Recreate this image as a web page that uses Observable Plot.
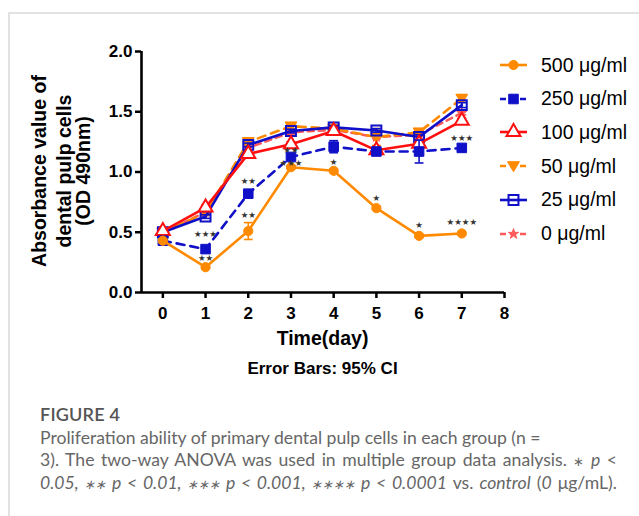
<!DOCTYPE html>
<html>
<head>
<meta charset="utf-8">
<script src="https://cdn.jsdelivr.net/npm/d3@7"></script>
<script src="https://cdn.jsdelivr.net/npm/@observablehq/plot@0.6"></script>
<style>
  body { margin: 0; background: #fff; }
  #page { position: relative; width: 639px; height: 516px; overflow: hidden; background: #fff;
          font-family: "Liberation Sans", Arial, sans-serif; }
  #frame { position: absolute; left: 8px; top: 12px; right: -2px; bottom: -2px;
           border-top: 2px solid #e2e2e2; border-left: 2px solid #e2e2e2; }
  #chart { position: absolute; left: 0; top: 0; }
  #ytitle { position: absolute; left: 0; top: 0; }
  .xt { position: absolute; font-weight: bold; white-space: nowrap; transform: translateX(-50%); color: #000; }
  #legend { position: absolute; left: 0; top: 0; width: 639px; height: 300px; }
  .lg { position: absolute; left: 498px; height: 20px; display: flex; align-items: center; white-space: nowrap; }
  .lg span { margin-left: 13px; font-size: 19.5px; color: #000; }
  #caption { position: absolute; left: 40px; top: 402px; font-family: Lato, "Open Sans", sans-serif; color: #666; white-space: nowrap; }
  #caption .fig { font-size: 18px; font-weight: 600; color: #555; line-height: 24px; letter-spacing: 0.2px; }
  #caption .ln { font-size: 17.6px; line-height: 21.5px; }
  #caption .j { width: 577px; text-align: justify; text-align-last: justify; }
  #caption .ln:first-of-type { margin-top: 1px; }
  #caption i { font-style: italic; }
  #caption .st { font-size: 13px; }
</style>
</head>
<body>
<div id="page">
  <div id="frame"></div>
  <div id="chart"></div>
  <svg id="ytitle" width="110" height="380">
    <g transform="translate(0,171) rotate(-90)" font-family="Liberation Sans, Arial, sans-serif" font-weight="bold" font-size="19.5" text-anchor="middle" fill="#000">
      <text x="0" y="46">Absorbance value of</text>
      <text x="0" y="71">dental pulp cells</text>
      <text x="0" y="90">(OD 490nm)</text>
    </g>
  </svg>
  <div class="xt" style="left:322.5px; top:327px; font-size:19.5px;">Time(day)</div>
  <div class="xt" style="left:322.5px; top:359px; font-size:17px;">Error Bars: 95% CI</div>
  <div id="legend"></div>
  <div id="caption">
    <div class="fig">FIGURE 4</div>
    <div class="ln" style="margin-top:1px">Proliferation ability of primary dental pulp cells in each group (n =</div>
    <div class="ln j">3). The two-way ANOVA was used in multiple group data analysis. <span class="st">∗</span> <i>p</i> &lt;</div>
    <div class="ln j"><i>0.05, <span class="st">∗∗</span> p &lt; 0.01, <span class="st">∗∗∗</span> p &lt; 0.001, <span class="st">∗∗∗∗</span> p &lt; 0.0001</i> vs. <i>control</i> (<i>0</i> μg/mL).</div>
  </div>
</div>
<script>
// ---------------- data ----------------
const days = [0, 1, 2, 3, 4, 5, 6, 7];
const xTicks = [0, 1, 2, 3, 4, 5, 6, 7, 8];
const yTicks = [0, 0.5, 1.0, 1.5, 2.0];
const seriesNames = ["500 μg/ml", "250 μg/ml", "100 μg/ml", "50 μg/ml", "25 μg/ml", "0 μg/ml"];

const v500 = [0.43, 0.21, 0.51, 1.04, 1.01, 0.70, 0.47, 0.49];
const v250 = [0.43, 0.36, 0.82, 1.125, 1.21, 1.17, 1.17, 1.20];
const v100 = [0.51, 0.705, 1.15, 1.23, 1.34, 1.18, 1.235, 1.425];
const v50  = [0.50, 0.66, 1.25, 1.38, 1.36, 1.29, 1.33, 1.61];
const v25  = [0.50, 0.63, 1.225, 1.34, 1.37, 1.345, 1.29, 1.555];
const v0   = [0.49, 0.67, 1.20, 1.33, 1.35, 1.29, 1.31, 1.49];

// 95% CI half widths
const e500 = [0.015, 0.015, 0.07, 0.015, 0.015, 0.015, 0.015, 0.01];
const e250 = [0.015, 0.015, 0.03, 0.02, 0.05, 0.02, 0.095, 0.01];
const e100 = [0.02, 0.02, 0.02, 0.02, 0.03, 0.03, 0.03, 0.02];
const e50  = [0.02, 0.02, 0.02, 0.02, 0.02, 0.07, 0.02, 0.03];
const e25  = [0.015, 0.015, 0.015, 0.015, 0.015, 0.015, 0.02, 0.02];
const e0   = [0.015, 0.015, 0.015, 0.015, 0.015, 0.015, 0.015, 0.015];

// significance labels
const starDays   = [1, 1, 2, 2, 3, 3, 4, 5, 6, 7, 7];
const starValues = [0.48, 0.28, 0.92, 0.64, 1.18, 1.07, 1.08, 0.78, 0.56, 1.28, 0.586];
const starLabels = ["***", "**", "**", "**", "**", "***", "*", "*", "*", "***", "****"];

// ---------------- styles ----------------
const ORANGE = "#ff8a00", BLUE = "#1010c8", RED = "#ff1010", PINK = "#ff5a5a";
const triDown = {
  draw(ctx, size) {
    const k = Math.sqrt(size);
    ctx.moveTo(-k * 0.62, -k * 0.45);
    ctx.lineTo(k * 0.62, -k * 0.45);
    ctx.lineTo(0, k * 0.6);
    ctx.closePath();
  }
};
const capSym = {
  draw(ctx, size) {
    const w = Math.sqrt(size) / 2;
    ctx.moveTo(-w, 0);
    ctx.lineTo(w, 0);
  }
};
const styles = [
  {values: v500, err: e500, color: ORANGE, dash: null,  symbol: "circle",   fill: ORANGE, r: 4.6, sw: 1},
  {values: v250, err: e250, color: BLUE,   dash: "8,6", symbol: "square",   fill: BLUE,   r: 5.4, sw: 1},
  {values: v100, err: e100, color: RED,    dash: null,  symbol: "triangle", fill: "white", r: 5.2, sw: 2},
  {values: v50,  err: e50,  color: ORANGE, dash: "8,6", symbol: triDown,    fill: ORANGE, r: 5.4, sw: 1},
  {values: v25,  err: e25,  color: BLUE,   dash: null,  symbol: "square",   fill: "none", r: 5.6, sw: 2},
  {values: v0,   err: e0,   color: PINK,   dash: "6,5", symbol: "star",     fill: PINK,   r: 3.2, sw: 1}
];

const rowsFor = (s, i) => days.map((d, j) => ({series: seriesNames[i], day: d, value: s.values[j], err: s.err[j]}));

// draw order: bottom to top
const order = [5, 3, 4, 2, 1, 0];
const seriesMarks = [];
for (const i of order) {
  const s = styles[i];
  const rows = rowsFor(s, i);
  seriesMarks.push(
    Plot.ruleX(rows, {x: "day", y1: d => d.value - d.err, y2: d => d.value + d.err, stroke: s.color, strokeWidth: 1.6}),
    Plot.dot(rows, {x: "day", y: d => d.value - d.err, symbol: capSym, r: 5, fill: "none", stroke: s.color, strokeWidth: 1.6}),
    Plot.dot(rows, {x: "day", y: d => d.value + d.err, symbol: capSym, r: 5, fill: "none", stroke: s.color, strokeWidth: 1.6}),
    Plot.line(rows, {x: "day", y: "value", stroke: s.color, strokeWidth: 2.6, strokeDasharray: s.dash}),
    Plot.dot(rows, {x: "day", y: "value", symbol: s.symbol, r: s.r, fill: s.fill, stroke: s.color, strokeWidth: s.sw})
  );
}

const stars = starDays.map((d, i) => ({day: d, value: starValues[i], label: starLabels[i].replace(/\*/g, "★")}));

const chart = Plot.plot({
  width: 639,
  height: 380,
  marginLeft: 141,
  marginRight: 135,
  marginTop: 51,
  marginBottom: 88,
  style: {fontFamily: "Liberation Sans, Arial, sans-serif", background: "transparent", overflow: "visible"},
  x: {domain: [-0.5, 8], label: null},
  y: {domain: [0, 2], label: null},
  marks: [
    Plot.axisX({ticks: xTicks, tickSize: 6, tickPadding: 8, fontSize: 17, fontWeight: "bold", strokeWidth: 2.5, stroke: "black", fill: "black", tickFormat: d3.format("d"), label: null}),
    Plot.axisY({ticks: yTicks, tickSize: 6, tickPadding: 3, fontSize: 17, fontWeight: "bold", strokeWidth: 2.5, stroke: "black", fill: "black", tickFormat: d3.format(".1f"), label: null}),
    ...seriesMarks,
    Plot.text(stars, {x: "day", y: "value", text: "label", fontSize: 8.5, fill: "#333", fontFamily: "DejaVu Sans", lineAnchor: "middle"}),
    Plot.ruleY([0], {stroke: "black", strokeWidth: 2.6}),
    Plot.ruleX([-0.5], {stroke: "black", strokeWidth: 2.6})
  ]
});
document.getElementById("chart").appendChild(chart);

// ---------------- legend ----------------
const legend = d3.select("#legend");
styles.forEach((s, i) => {
  const row = legend.append("div").attr("class", "lg").style("top", (55 + i * 33.7) + "px");
  const svg = row.append("svg").attr("width", 30).attr("height", 20);
  svg.append("line").attr("x1", 2).attr("x2", 29).attr("y1", 10).attr("y2", 10)
    .attr("stroke", s.color).attr("stroke-width", 2.6).attr("stroke-dasharray", s.dash ? "6,4" : null);
  const sym = typeof s.symbol === "string" ? Plot.scale({symbol: {domain: ["circle","square","triangle","star"], range: [d3.symbolCircle, d3.symbolSquare, d3.symbolTriangle, d3.symbolStar]}}).apply(s.symbol) : s.symbol;
  svg.append("path").attr("transform", "translate(15.5,10)")
    .attr("d", d3.symbol(sym, s.r * s.r * Math.PI)())
    .attr("fill", s.fill).attr("stroke", s.color).attr("stroke-width", s.sw);
  row.append("span").text(seriesNames[i]);
});
</script>
</body>
</html>
